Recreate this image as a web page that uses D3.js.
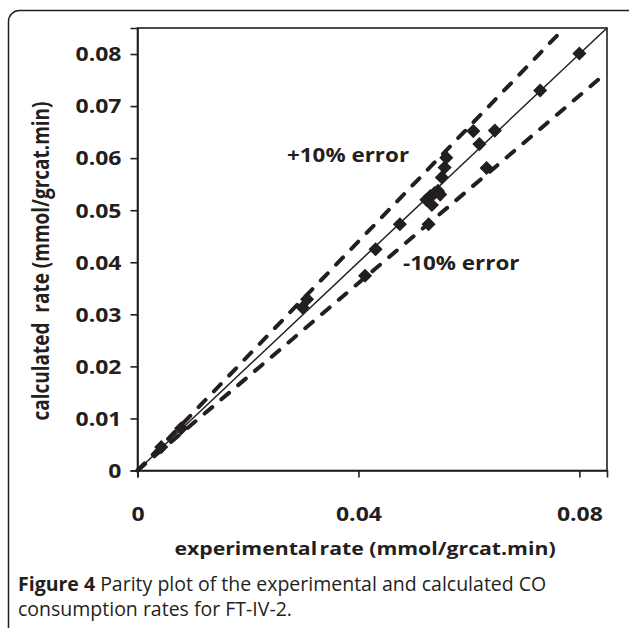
<!DOCTYPE html>
<html>
<head>
<meta charset="utf-8">
<script src="https://cdn.jsdelivr.net/npm/d3@7"></script>
<style>
  body { margin: 0; background: #fff; }
  svg { display: block; }
  text { fill: #231f20; }
</style>
</head>
<body>
<div id="chart"></div>
<script>
// experimental vs calculated CO consumption rates (mmol/grcat.min)
const expRate = [0.0043, 0.0079, 0.0299, 0.0307, 0.0412, 0.0431, 0.0475, 0.0527,
                 0.0523, 0.0530, 0.0533, 0.0538, 0.0544, 0.0548, 0.0551, 0.0556,
                 0.0559, 0.0608, 0.0619, 0.0632, 0.0647, 0.0729, 0.0800];
const calcRate = [0.0045, 0.0081, 0.0313, 0.0329, 0.0374, 0.0425, 0.0473, 0.0473,
                  0.0520, 0.0527, 0.0510, 0.0533, 0.0537, 0.0530, 0.0563, 0.0582,
                  0.0601, 0.0652, 0.0627, 0.0581, 0.0653, 0.0730, 0.0801];
const xTicks = [0, 0.04, 0.08];
const yTicks = [0, 0.01, 0.02, 0.03, 0.04, 0.05, 0.06, 0.07, 0.08];
// parity and +/-10% error lines, given as [x0, x1] ranges on the x axis
const parityLine = [0, 0.085];
const plusLine = [0, 0.0765];
const minusLine = [0, 0.0835];

const W = 629, H = 628;
const stretch = 1.18; // chart text in the figure is widened horizontally

var svg = d3.select("#chart").append("svg")
    .attr("width", W)
    .attr("height", H);

// rounded frame of the figure
svg.append("rect")
    .attr("x", 8.5).attr("y", 10.5)
    .attr("width", 650).attr("height", 660)
    .attr("rx", 11)
    .attr("fill", "none")
    .attr("stroke", "#231f20")
    .attr("stroke-width", 1.5);

var x = d3.scaleLinear().domain([0, 0.085]).range([137.5, 607]);
var y = d3.scaleLinear().domain([0, 0.085]).range([470.5, 28]);

// plot box
svg.append("rect")
    .attr("x", x(0)).attr("y", y(0.085))
    .attr("width", x(0.085) - x(0))
    .attr("height", y(0) - y(0.085))
    .attr("fill", "none")
    .attr("stroke", "#231f20")
    .attr("stroke-width", 1.6);

var tickFont = "'Open Sans', sans-serif";

// x axis
var xAxis = svg.append("g")
    .attr("transform", "translate(0," + y(0) + ")")
    .call(d3.axisBottom(x).tickValues(xTicks).tickSize(7).tickFormat(d3.format("")));
xAxis.select(".domain").attr("stroke", "#231f20").attr("stroke-width", 1.6);
xAxis.selectAll(".tick line").attr("stroke", "#231f20").attr("stroke-width", 1.6);
xAxis.selectAll(".tick text")
    .attr("y", 0).attr("dy", 0)
    .attr("transform", "translate(0,50) scale(" + stretch + ",1)")
    .style("font-family", tickFont)
    .style("font-weight", "bold")
    .style("font-size", "19.5px");

// y axis
var yAxis = svg.append("g")
    .attr("transform", "translate(" + x(0) + ",0)")
    .call(d3.axisLeft(y).tickValues(yTicks).tickSize(7).tickFormat(d3.format("")));
yAxis.select(".domain").attr("stroke", "#231f20").attr("stroke-width", 1.6);
yAxis.selectAll(".tick line").attr("stroke", "#231f20").attr("stroke-width", 1.6);
yAxis.selectAll(".tick text")
    .attr("x", 0).attr("dy", "0.35em")
    .attr("transform", "translate(-16,0) scale(" + stretch + ",1)")
    .style("font-family", tickFont)
    .style("font-weight", "bold")
    .style("font-size", "19.5px");

// lines
var line = d3.line().x(d => x(d[0])).y(d => y(d[1]));
function ratioLine(range, k) {
    return range.map(v => [v, v * k]);
}

svg.append("path")
    .attr("d", line(ratioLine(parityLine, 1)))
    .attr("fill", "none")
    .attr("stroke", "#231f20")
    .attr("stroke-width", 1.5);

[[plusLine, 1.1], [minusLine, 0.9]].forEach(function (l) {
    svg.append("path")
        .attr("d", line(ratioLine(l[0], l[1])))
        .attr("fill", "none")
        .attr("stroke", "#231f20")
        .attr("stroke-width", 4)
        .attr("stroke-linecap", "round")
        .attr("stroke-dasharray", "10,12");
});

// data points (diamonds)
var diamond = d3.symbol().type(d3.symbolSquare).size(100);
svg.append("g")
    .selectAll("path")
    .data(expRate.map((v, i) => [v, calcRate[i]]))
    .enter()
    .append("path")
    .attr("d", diamond)
    .attr("transform", d => "translate(" + x(d[0]) + "," + y(d[1]) + ") rotate(45)")
    .attr("fill", "#231f20");

// labels
function stretchedText(tx, ty, str, anchor, size, weight, rot) {
    return svg.append("text")
        .attr("transform", "translate(" + tx + "," + ty + ") scale(" + stretch + ",1)" + (rot ? " rotate(" + rot + ")" : ""))
        .attr("text-anchor", anchor)
        .style("font-family", tickFont)
        .style("font-weight", weight)
        .style("font-size", size + "px")
        .text(str);
}

stretchedText(287, 162, "+10% error", "start", 19, "bold");
stretchedText(403, 270, "-10% error", "start", 19, "bold");
var xt = stretchedText(365, 555, "experimental", "middle", 18, "bold");
xt.append("tspan").attr("dx", 2).text("rate (mmol/grcat.min)");
stretchedText(49, 261, "calculated\u00a0\u00a0rate (mmol/grcat.min)", "middle", 19, "bold", -90);

// caption
var cap = svg.append("g").style("font-family", tickFont).style("font-size", "19.5px");
var l1 = cap.append("text").attr("x", 18).attr("y", 591);
l1.append("tspan").style("font-weight", "bold").text("Figure 4");
l1.append("tspan").text(" Parity plot of the experimental and calculated CO");
cap.append("text").attr("x", 18).attr("y", 616).text("consumption rates for FT-IV-2.");
</script>
</body>
</html>
